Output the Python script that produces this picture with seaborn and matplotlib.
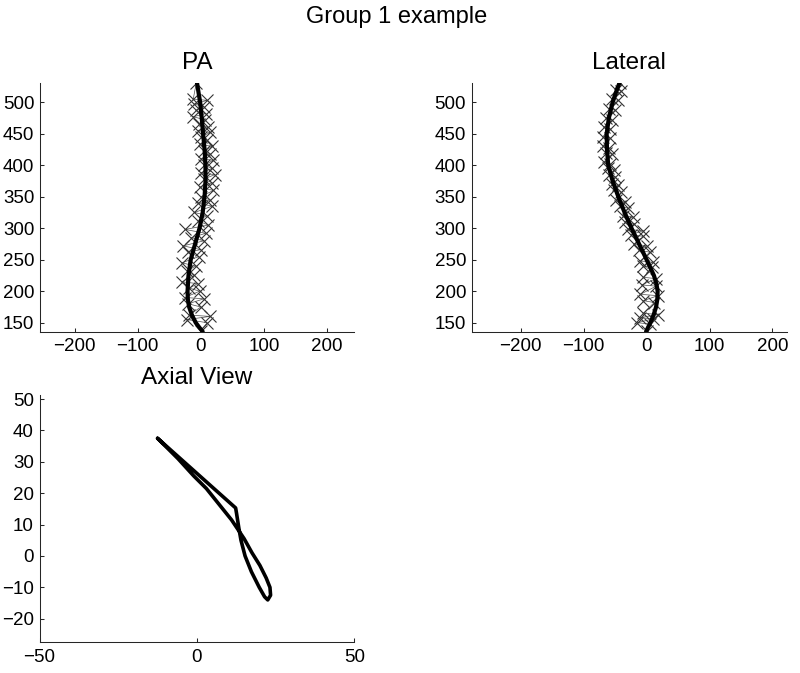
import numpy as np
import pandas as pd
import matplotlib
matplotlib.use("Agg")
import matplotlib.pyplot as plt
import seaborn as sns

# --- PA view: fitted curve and landmark points ---
pa_curve_y = [531, 515, 500, 475, 450, 425, 400, 375, 350, 325, 300, 275, 250,
              225, 200, 187, 175, 162, 150, 142, 136]
pa_curve_x = [-6, -3.5, -1, 1.5, 3.7, 6, 7.4, 7.5, 6, 3, -2, -9, -16,
              -19.5, -21, -20.5, -18.5, -14, -8, -2, 3]

pa_pts_x = [-7, -12, 10, -10, 5, -8, 8, -12, 7, -3, 12, -5, 15, 0, 10, -2, 18, 5,
            15, 0, 20, 5, 18, 0, 22, 5, 18, -2, 20, 0, 15, -5, 18, -10, 10, -5,
            12, -25, 8, -15, 5, -28, 0, -20, -3, -30, -8, -22, -10, -30, -5, -18,
            -2, -25, 5, -20, 0, -18, 15, -22, 10, 0]
pa_pts_y = [531, 505, 503, 497, 493, 487, 482, 477, 472, 466, 460, 455, 452, 445,
            440, 433, 430, 422, 418, 410, 408, 400, 395, 388, 385, 378, 372, 365,
            360, 350, 345, 340, 335, 325, 320, 312, 305, 298, 292, 285, 280, 272,
            266, 262, 255, 245, 240, 232, 225, 215, 212, 205, 200, 190, 188, 180,
            175, 162, 160, 155, 150, 137]

# --- Lateral view ---
lat_curve_y = [531, 515, 500, 475, 450, 425, 400, 375, 350, 325, 300, 275, 250,
               237, 225, 212, 200, 187, 175, 162, 150, 142, 135]
lat_curve_x = [-43, -49, -54, -60, -63.5, -63, -61, -54, -45, -35, -24, -12, 0,
               6, 11.6, 15.5, 17.5, 17, 15, 11, 6, 2, -1]

lat_pts_x = [-42, -48, -40, -55, -45, -60, -50, -65, -55, -68, -58, -70, -58, -70,
             -60, -65, -55, -68, -58, -62, -52, -60, -50, -55, -45, -52, -40, -48,
             -35, -42, -30, -38, -22, -35, -20, -30, -5, -25, -5, -20, 0, -12, 5,
             -10, 10, -5, 8, -5, 15, -8, 15, -10, 18, -5, 12, -5, 18, -10, 10, -15,
             5, 0]
lat_pts_y = [531, 520, 518, 505, 503, 490, 488, 475, 472, 460, 458, 445, 443, 430,
             428, 420, 418, 405, 402, 395, 392, 385, 382, 370, 368, 360, 357, 345,
             342, 335, 332, 320, 318, 310, 307, 298, 296, 290, 287, 275, 272, 265,
             262, 248, 246, 240, 238, 222, 220, 210, 208, 195, 193, 185, 182, 165,
             163, 158, 156, 150, 148, 137]

# --- Axial view ---
ax_x = [-12.5, 12.3, 12.6, 13.3, 14, 15.3, 17.3, 19.8, 21.5, 22.5, 23.4, 23.2, 22,
        20, 17.5, 15, 13, 11, 7, 3, -1, -6, -12.5]
ax_y = [37.5, 15.3, 13.5, 9, 5, 0, -5, -10, -13, -14, -12.5, -10, -7,
        -3, 1, 5.5, 8.5, 11.5, 16.5, 21.5, 25.5, 31, 37.5]

sns.set_style("ticks")
plt.rcParams["font.family"] = ["Liberation Sans", "DejaVu Sans"]
plt.rcParams["xtick.direction"] = "in"
plt.rcParams["ytick.direction"] = "in"
plt.rcParams["text.color"] = "black"
plt.rcParams["xtick.color"] = "black"
plt.rcParams["ytick.color"] = "black"

fig = plt.figure(figsize=(8, 6.73), dpi=100)
ax_pa = fig.add_axes([0.05, 0.5074, 0.3925, 0.3697])
ax_lat = fig.add_axes([0.5896, 0.5074, 0.3941, 0.3697])
ax_axial = fig.add_axes([0.0494, 0.0461, 0.3935, 0.367])


def spine_plot(ax, cx, cy, px, py, title, xlim):
    sns.lineplot(x=px, y=py, sort=False, estimator=None, ax=ax, color="0.3",
                 linewidth=0.5, marker="x", markersize=8,
                 markeredgecolor="0.2", markeredgewidth=0.8)
    sns.lineplot(x=cx, y=cy, sort=False, estimator=None, ax=ax, color="black",
                 linewidth=3)
    ax.set_xlim(*xlim)
    ax.set_ylim(136, 531)
    ax.set_xticks([-200, -100, 0, 100, 200])
    ax.set_yticks([150, 200, 250, 300, 350, 400, 450, 500])
    ax.set_title(title, fontsize=17.5, pad=10)


spine_plot(ax_pa, pa_curve_x, pa_curve_y, pa_pts_x, pa_pts_y, "PA", (-255, 243))
spine_plot(ax_lat, lat_curve_x, lat_curve_y, lat_pts_x, lat_pts_y, "Lateral", (-278, 223))

sns.lineplot(x=ax_x, y=ax_y, sort=False, estimator=None, ax=ax_axial,
             color="black", linewidth=2.6)
ax_axial.set_xlim(-50, 50)
ax_axial.set_ylim(-27.4, 51.3)
ax_axial.set_xticks([-50, 0, 50])
ax_axial.set_yticks([-20, -10, 0, 10, 20, 30, 40, 50])
ax_axial.set_title("Axial View", fontsize=17.5, pad=8)

for ax in [ax_pa, ax_lat, ax_axial]:
    sns.despine(ax=ax)
    ax.set_xlabel("")
    ax.set_ylabel("")
    ax.tick_params(labelsize=13.5, length=3, width=0.75, color="0.15")
    ax.tick_params(axis="x", pad=5)
    ax.tick_params(axis="y", pad=4)
    for s in ["left", "bottom"]:
        ax.spines[s].set_linewidth(0.75)
        ax.spines[s].set_color("0.15")

fig.text(0.496, 0.966, "Group 1 example", ha="center", va="baseline", fontsize=17)

fig.savefig("out.png", dpi=100)
